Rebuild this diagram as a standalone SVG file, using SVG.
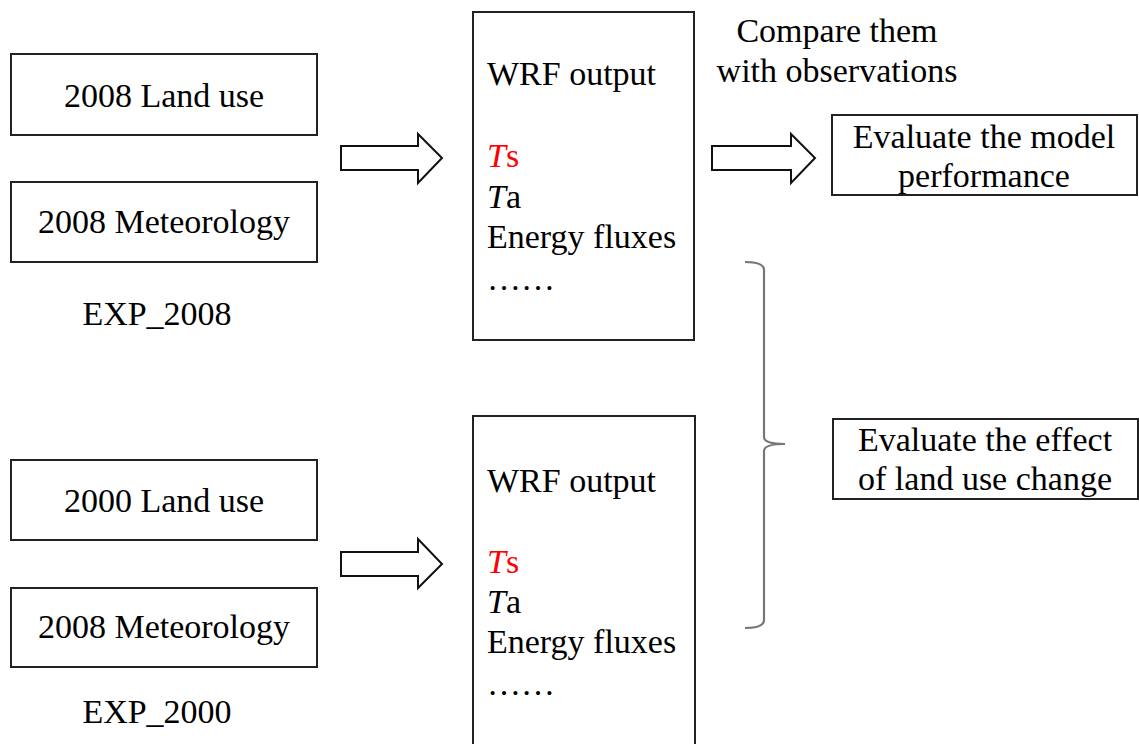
<svg xmlns="http://www.w3.org/2000/svg" width="1139" height="744" viewBox="0 0 1139 744">
<style>
.box{fill:#fff;stroke:#222;stroke-width:2}
.t{font-family:"Liberation Serif","Times New Roman",serif;font-size:34px;fill:#000}
.c{text-anchor:middle}
.red{fill:#ff0000}
.arr{fill:#fff;stroke:#111;stroke-width:2;stroke-linejoin:miter}
.br{fill:none;stroke:#777;stroke-width:2.2}
</style>
<rect width="1139" height="744" fill="#fff"/>
<g id="land2008"><rect class="box" x="11" y="54" width="306" height="81"/><text class="t c" x="164" y="107">2008 Land use</text></g>
<g id="met2008a"><rect class="box" x="11" y="182" width="306" height="80"/><text class="t c" x="164" y="233">2008 Meteorology</text></g>
<g id="exp2008"><text class="t c" x="157" y="325">EXP_2008</text></g>
<g id="land2000"><rect class="box" x="11" y="460" width="306" height="80"/><text class="t c" x="164" y="512">2000 Land use</text></g>
<g id="met2008b"><rect class="box" x="11" y="588" width="306" height="79"/><text class="t c" x="164" y="638">2008 Meteorology</text></g>
<g id="exp2000"><text class="t c" x="157" y="723">EXP_2000</text></g>
<g id="wrf1"><rect class="box" x="473" y="12" width="221" height="328"/>
<text class="t" x="487" y="85">WRF output</text>
<text class="t red" x="487" y="167"><tspan font-style="italic">T</tspan>s</text>
<text class="t" x="487" y="208"><tspan font-style="italic">T</tspan>a</text>
<text class="t" x="487" y="248">Energy fluxes</text>
<text class="t" x="487" y="290">……</text></g>
<g id="wrf2"><rect class="box" x="473" y="416" width="222" height="340"/>
<text class="t" x="487" y="492">WRF output</text>
<text class="t red" x="487" y="573"><tspan font-style="italic">T</tspan>s</text>
<text class="t" x="487" y="613"><tspan font-style="italic">T</tspan>a</text>
<text class="t" x="487" y="653">Energy fluxes</text>
<text class="t" x="487" y="695">……</text></g>
<g id="compare"><text class="t c" x="837" y="42">Compare them</text><text class="t c" x="837" y="82">with observations</text></g>
<g id="evalModel"><rect class="box" x="832" y="115" width="305" height="80"/><text class="t c" x="984" y="148">Evaluate the model</text><text class="t c" x="984" y="187">performance</text></g>
<g id="evalLand"><rect class="box" x="833" y="419" width="305" height="80"/><text class="t c" x="985" y="451">Evaluate the effect</text><text class="t c" x="985" y="490">of land use change</text></g>
<g id="connectors">
<polygon class="arr" points="341,146 418,146 418,134 442,158 418,183 418,170 341,170"/>
<polygon class="arr" points="712,146 791,146 791,134 815,158 791,183 791,170 712,170"/>
<polygon class="arr" points="341,552 418,552 418,539 442,564 418,588 418,576 341,576"/>
<path class="br" d="M745,262 Q764,262 764,270 L764,437 Q764,444 785,444 Q764,444 764,451 L764,620 Q764,628 745,628"/>
</g>
</svg>
